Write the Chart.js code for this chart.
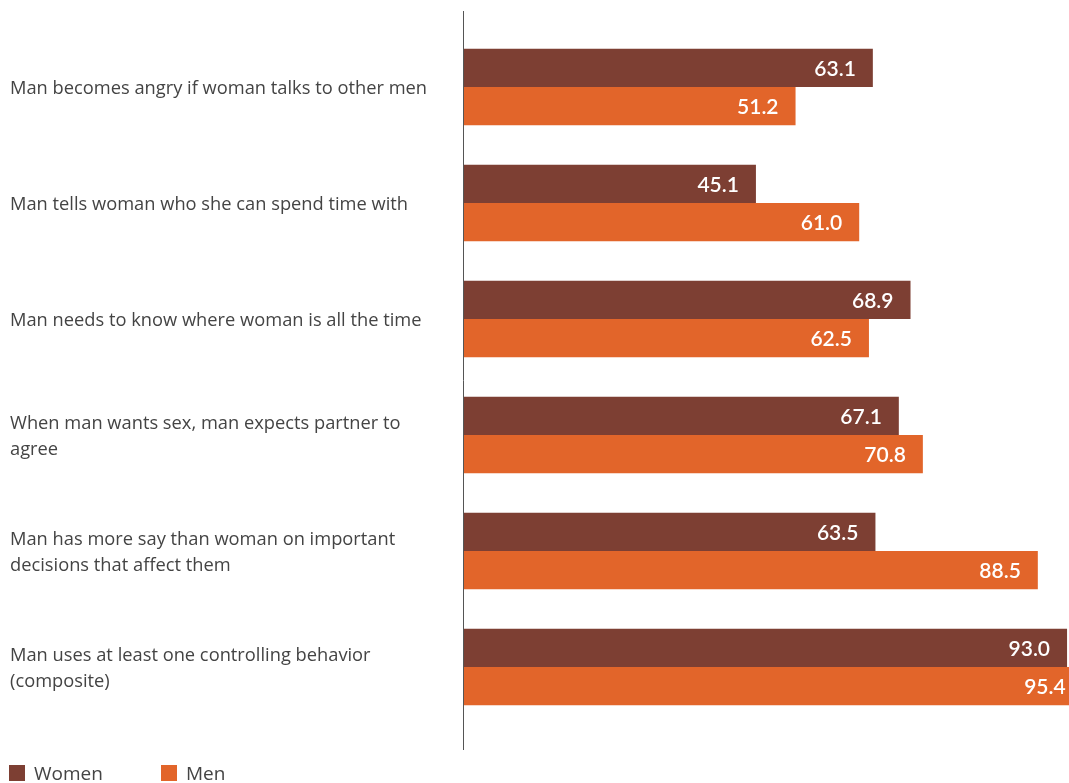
<!DOCTYPE html>
<html>
<head>
<meta charset="utf-8">
<script src="https://cdn.jsdelivr.net/npm/chart.js@4/dist/chart.umd.min.js"></script>
<style>
  html, body { margin: 0; padding: 0; background: #fff; }
  #wrap { width: 1069px; height: 783px; position: relative; }
</style>
</head>
<body>
<div id="wrap"><canvas id="chart"></canvas></div>
<script>
const categories = [
  'Man becomes angry if woman talks to other men',
  'Man tells woman who she can spend time with',
  'Man needs to know where woman is all the time',
  ['When man wants sex, man expects partner to', 'agree'],
  ['Man has more say than woman on important', 'decisions that affect them'],
  ['Man uses at least one controlling behavior', '(composite)']
];
const women = [63.1, 45.1, 68.9, 67.1, 63.5, 93.0];
const men = [51.2, 61.0, 62.5, 70.8, 88.5, 95.4];
const seriesNames = ['Women', 'Men'];
const seriesColors = ['#7d3f33', '#e2652a'];

const labelFont = '"Open Sans", sans-serif';

// white value text tucked inside the end of each bar
const valueLabels = {
  id: 'valueLabels',
  afterDatasetsDraw(chart) {
    const ctx = chart.ctx;
    ctx.save();
    ctx.fillStyle = '#fff';
    ctx.font = '600 21px Lato, sans-serif';
    ctx.textAlign = 'right';
    ctx.textBaseline = 'middle';
    chart.data.datasets.forEach((ds, i) => {
      chart.getDatasetMeta(i).data.forEach((bar, j) => {
        ctx.fillText(ds.data[j].toFixed(1), bar.x - 17, bar.y + 1);
      });
    });
    ctx.restore();
  }
};

// vertical baseline runs a bit past the plot area
const axisLine = {
  id: 'axisLine',
  afterDraw(chart) {
    const ctx = chart.ctx;
    const x = Math.round(chart.chartArea.left) + 0.5;
    ctx.save();
    ctx.strokeStyle = '#555';
    ctx.lineWidth = 1;
    ctx.beginPath();
    ctx.moveTo(x, 11);
    ctx.lineTo(x, 750);
    ctx.stroke();
    ctx.restore();
  }
};

const bottomLegend = {
  id: 'bottomLegend',
  afterDraw(chart) {
    const ctx = chart.ctx;
    const starts = [9, 161];
    ctx.save();
    ctx.font = '19px ' + labelFont;
    ctx.textBaseline = 'middle';
    chart.data.datasets.forEach((ds, i) => {
      ctx.fillStyle = ds.backgroundColor;
      ctx.fillRect(starts[i], 765, 16, 16);
      ctx.fillStyle = '#444';
      ctx.fillText(ds.label, starts[i] + 25, 775);
    });
    ctx.restore();
  }
};

new Chart(document.getElementById('chart'), {
  type: 'bar',
  data: {
    labels: categories,
    datasets: [
      { label: seriesNames[0], data: women, backgroundColor: seriesColors[0] },
      { label: seriesNames[1], data: men, backgroundColor: seriesColors[1] }
    ]
  },
  options: {
    indexAxis: 'y',
    responsive: true,
    maintainAspectRatio: false,
    animation: false,
    categoryPercentage: 0.658,
    barPercentage: 1,
    layout: { padding: { left: 10, right: 0, top: 28, bottom: 58 } },
    plugins: {
      legend: { display: false },
      tooltip: { enabled: false }
    },
    scales: {
      x: { display: false, min: 0, max: 93.3 },
      y: {
        grid: { display: false },
        border: { display: false },
        ticks: {
          crossAlign: 'far',
          color: '#444',
          labelOffset: 2,
          font: { family: labelFont, size: 18.3, lineHeight: 1.42 }
        },
        afterFit(scale) { scale.width = 453; }
      }
    }
  },
  plugins: [valueLabels, axisLine, bottomLegend]
});
</script>
</body>
</html>
